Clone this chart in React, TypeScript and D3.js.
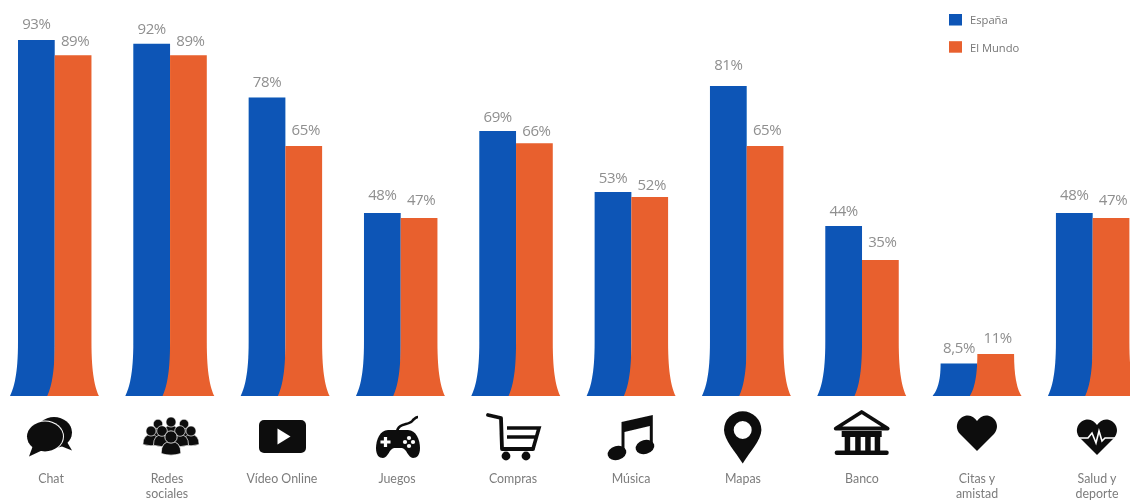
import React from "react";
import * as d3 from "d3";

const categories = ["Chat", "Redes sociales", "Vídeo Online", "Juegos", "Compras", "Música", "Mapas", "Banco", "Citas y amistad", "Salud y deporte"];
const labelLines = [["Chat"], ["Redes", "sociales"], ["Vídeo Online"], ["Juegos"], ["Compras"], ["Música"], ["Mapas"], ["Banco"], ["Citas y", "amistad"], ["Salud y", "deporte"]];
const espana = [93, 92, 78, 47.8, 69.2, 53.3, 81, 44.4, 8.5, 47.8];
const mundo = [89, 89, 65.3, 46.5, 66, 52, 65.3, 35.5, 11, 46.5];
const espanaLabels = ["93%", "92%", "78%", "48%", "69%", "53%", "81%", "44%", "8,5%", "48%"];
const mundoLabels = ["89%", "89%", "65%", "47%", "66%", "52%", "65%", "35%", "11%", "47%"];
const seriesNames = ["España", "El Mundo"];
const espanaLift = [11, 10, 10, 13, 9, 9, 16, 10, 10, 13];
const mundoLift = [9, 9, 11, 13, 7, 7, 11, 13, 11, 13];
const labelCenters = [51, 167, 282, 397, 513, 631, 743, 862, 977, 1097];
const BLUE = "#0a55b6";
const ORANGE = "#e8602d";
const FONT = "'Open Sans', 'Noto Sans', sans-serif";

const baseY = 396;
const y = d3.scaleLinear().domain([0, 93]).range([baseY, 40]);
const x = d3.scaleBand<string>().domain(categories).range([18, 1129.4]).paddingInner(0.363).paddingOuter(0);

function flaredBar(x0: number, x1: number, top: number, leftFlare: number, rightFlare: number) {
  const h = baseY - top;
  const f = Math.min(54, h);
  const p = d3.path();
  p.moveTo(x0, top);
  p.lineTo(x1, top);
  p.lineTo(x1, baseY - f);
  p.bezierCurveTo(x1, baseY - f * 0.4, x1 + rightFlare * 0.5, baseY - f * 0.15, x1 + rightFlare, baseY);
  p.lineTo(x0 - leftFlare, baseY);
  p.bezierCurveTo(x0 - leftFlare * 0.5, baseY - f * 0.15, x0, baseY - f * 0.4, x0, baseY - f);
  p.closePath();
  return p.toString();
}

const K = "#111";
const Person = ({ dx, dy, s }: { dx: number; dy: number; s: number }) => (
  <g transform={`translate(${dx},${dy}) scale(${s})`} fill={K} stroke="#fff" strokeWidth={0.7}>
    <path d="M-9,15 Q-9,4 0,4 Q9,4 9,15 Q0,18 -9,15 Z" />
    <circle cx={0} cy={0} r={5.6} />
  </g>
);

const HEART = "M0,18 L-17,1 C-24,-7 -18,-17.5 -9,-17.5 C-5,-17.5 -2,-15 0,-12 C2,-15 5,-17.5 9,-17.5 C18,-17.5 24,-7 17,1 Z";

const icons: [number, number, React.ReactNode][] = [
  [45, 436.5, (
    <g>
      <ellipse cx={9} cy={-4} rx={18} ry={15.5} fill={K} />
      <path d="M20,2 L27,14 L12,8 Z" fill={K} />
      <ellipse cx={0} cy={0} rx={19} ry={16} fill="#fff" />
      <path d="M-12,9 L-16,20 L-1,13 Z" fill={K} />
      <ellipse cx={0} cy={0} rx={18} ry={15} fill={K} />
    </g>
  )],
  [171, 436, (
    <g>
      <Person dx={-13} dy={-12} s={0.85} />
      <Person dx={13} dy={-12} s={0.85} />
      <Person dx={0} dy={-14} s={0.9} />
      <Person dx={-20} dy={-5} s={0.9} />
      <Person dx={20} dy={-5} s={0.9} />
      <Person dx={-9} dy={-5} s={0.95} />
      <Person dx={9} dy={-5} s={0.95} />
      <Person dx={0} dy={1} s={1.1} />
    </g>
  )],
  [282.5, 436.5, (
    <g>
      <rect x={-23.5} y={-16.5} width={47} height={33} rx={5} fill={K} />
      <path d="M-5,-8 L8,0 L-5,8 Z" fill="#fff" />
    </g>
  )],
  [398, 444, (
    <g>
      <path d="M-1,-12 C0,-22 12,-18 15,-24 Q18,-27 20,-27" fill="none" stroke={K} strokeWidth={2.6} />
      <path d="M-10,-14 L10,-14 C18,-14 22,-4 22,4 C22,11 19,14 15,14 C10,14 9,5 4,4 L-4,4 C-9,5 -10,14 -15,14 C-19,14 -22,11 -22,4 C-22,-4 -18,-14 -10,-14 Z" fill={K} />
      <path d="M-12.5,-7 v10 M-17.5,-2 h10" stroke="#fff" strokeWidth={3.2} fill="none" />
      <g fill="#fff">
        <circle cx={11} cy={-6} r={2.1} />
        <circle cx={11} cy={2} r={2.1} />
        <circle cx={7} cy={-2} r={2.1} />
        <circle cx={15} cy={-2} r={2.1} />
      </g>
    </g>
  )],
  [513, 435, (
    <g>
      <path d="M-25,-20 L-12,-17 L-11,14 L20,14" fill="none" stroke={K} strokeWidth={3.8} strokeLinecap="round" strokeLinejoin="round" />
      <path d="M-6,-7 H26 L20,14 M-6,2 H23" fill="none" stroke={K} strokeWidth={3.6} />
      <circle cx={-7} cy={21} r={4.4} fill={K} />
      <circle cx={13} cy={21} r={4.4} fill={K} />
    </g>
  )],
  [635, 435, (
    <g>
      <ellipse cx={-18} cy={18} rx={9.5} ry={7} fill={K} transform="rotate(-15 -18 18)" />
      <ellipse cx={10} cy={12} rx={9.5} ry={7} fill={K} transform="rotate(-15 10 12)" />
      <path d="M-13.5,-13 L17.8,-20 L17.8,12 L14.8,12 L14.8,-9 L-10.5,-3 L-10.5,18 L-13.5,18 Z" fill={K} />
    </g>
  )],
  [742.7, 430, (
    <path fillRule="evenodd" fill={K} d="M0,33.5 C-7,22 -18.7,10 -18.7,0 A18.7,18.7 0 0 1 18.7,0 C18.7,10 7,22 0,33.5 Z M-9,0 A9,9 0 0 0 9,0 A9,9 0 0 0 -9,0 Z" />
  )],
  [861.7, 432, (
    <g>
      <path d="M-26,-3.5 L0,-20 L26,-3.5 Z" fill="none" stroke={K} strokeWidth={3.8} strokeLinejoin="round" />
      <rect x={-20} y={-1} width={40} height={6} fill={K} />
      <g fill={K}>
        <rect x={-17} y={4} width={5.5} height={15} />
        <rect x={-6.5} y={4} width={5.5} height={15} />
        <rect x={3.5} y={4} width={5.5} height={15} />
        <rect x={13} y={4} width={5.5} height={15} />
      </g>
      <rect x={-27} y={18.5} width={54} height={4.4} rx={2} fill={K} />
    </g>
  )],
  [977, 433, <path fill={K} d={HEART} />],
  [1097, 437, (
    <g>
      <path fill={K} d={HEART} />
      <path d="M-21,1 H-9 L-5,-4 L-1,6 L2,-6 L5,4 L8,1 H21" fill="none" stroke="#fff" strokeWidth={1.6} />
    </g>
  )],
];

export default function App() {
  const bw = x.bandwidth() / 2;
  return (
    <svg width={1130} height={501} viewBox="0 0 1130 501" style={{ position: "absolute", left: 0, top: 0, background: "#fff" }} fontFamily={FONT}>
      <defs>
        <filter id="soft" x="-2%" y="-2%" width="104%" height="104%">
          <feGaussianBlur stdDeviation={0.4} />
        </filter>
      </defs>
      <g filter="url(#soft)">
        {categories.map((c, i) => {
          const x0 = x(c)!;
          return (
            <g key={c}>
              <path d={flaredBar(x0, x0 + bw, y(espana[i]), 8, 0)} fill={BLUE} />
              <path d={flaredBar(x0 + bw, x0 + 2 * bw, y(mundo[i]), 7.5, 7.5)} fill={ORANGE} />
              <text x={x0 + bw / 2} y={y(espana[i]) - espanaLift[i]} textAnchor="middle" fontSize={15} fill="#8f8f8f" letterSpacing={-0.4}>{espanaLabels[i]}</text>
              <text x={x0 + bw * 1.5 + 2} y={y(mundo[i]) - mundoLift[i]} textAnchor="middle" fontSize={15} fill="#8f8f8f" letterSpacing={-0.4}>{mundoLabels[i]}</text>
              {labelLines[i].map((line, j) => (
                <text key={j} x={labelCenters[i]} y={483 + j * 15} textAnchor="middle" fontSize={12.4} fontFamily="Lato, sans-serif" fill="#7c7c7c">{line}</text>
              ))}
            </g>
          );
        })}
        {icons.map(([cx, cy, node], i) => (
          <g key={i} transform={`translate(${cx},${cy})`}>{node}</g>
        ))}
        {seriesNames.map((name, i) => (
          <g key={name}>
            <rect x={949} y={14 + i * 27.2} width={13} height={11.5} fill={i === 0 ? BLUE : ORANGE} />
            <text x={970} y={24 + i * 27.5} fontSize={11.2} fill="#777">{name}</text>
          </g>
        ))}
      </g>
    </svg>
  );
}
